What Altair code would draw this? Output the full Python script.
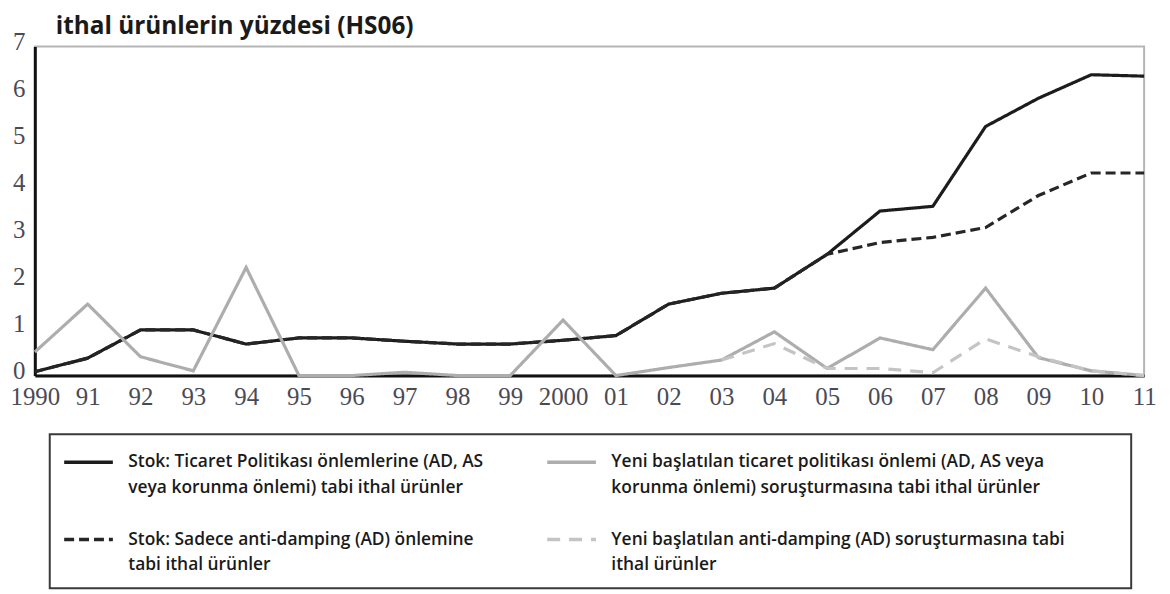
import altair as alt
import pandas as pd

years = ["1990", "91", "92", "93", "94", "95", "96", "97", "98", "99", "2000",
         "01", "02", "03", "04", "05", "06", "07", "08", "09", "10", "11"]

stock_tp = [0.08, 0.37, 0.97, 0.97, 0.67, 0.8, 0.8, 0.73, 0.67, 0.67, 0.75,
            0.85, 1.52, 1.75, 1.86, 2.58, 3.5, 3.6, 5.3, 5.9, 6.4, 6.37]
stock_ad = [0.08, 0.37, 0.97, 0.97, 0.67, 0.8, 0.8, 0.73, 0.67, 0.67, 0.75,
            0.85, 1.52, 1.75, 1.86, 2.58, 2.83, 2.94, 3.15, 3.83, 4.31, 4.31]
new_tp = [0.5, 1.52, 0.4, 0.1, 2.3, 0.0, 0.0, 0.07, 0.0, 0.0, 1.18,
          0.0, 0.17, 0.33, 0.93, 0.15, 0.8, 0.55, 1.86, 0.38, 0.1, 0.0]
new_ad = [None, None, None, None, None, None, None, None, None, None, None,
          None, None, 0.33, 0.68, 0.15, 0.15, 0.06, 0.78, 0.4, 0.1, 0.0]

series_names = [
    "Stok: Ticaret Politikası önlemlerine (AD, AS|veya korunma önlemi) tabi ithal ürünler",
    "Stok: Sadece anti-damping (AD) önlemine|tabi ithal ürünler",
    "Yeni başlatılan ticaret politikası önlemi (AD, AS veya|korunma önlemi) soruşturmasına tabi ithal ürünler",
    "Yeni başlatılan anti-damping (AD) soruşturmasına tabi|ithal ürünler",
]
series_values = [stock_tp, stock_ad, new_tp, new_ad]
series_colors = ["#1c1c1c", "#262626", "#adadad", "#c4c4c4"]
series_dashes = [[1, 0], [10, 5], [1, 0], [13, 9]]
draw_order = [3, 2, 1, 0]

rows = []
for name, vals, z in zip(series_names, series_values, draw_order):
    for i, (yr, v) in enumerate(zip(years, vals)):
        if v is not None:
            rows.append({"year": yr, "idx": i, "value": v, "series": name, "z": z})
df = pd.DataFrame(rows)

legend = alt.Legend(
    title=" ",
    titleOrient="right",
    titlePadding=52,
    orient="none",
    legendX=15,
    legendY=390,
    columns=2,
    symbolType="M-2,0H2",
    symbolSize=600,
    symbolStrokeWidth=3.5,
    symbolOffset=11,
    labelFont="Open Sans",
    labelFontSize=17.5,
    labelFontWeight=600,
    labelColor="#1a1a1a",
    labelLimit=0,
    labelOffset=26,
    labelExpr="split(datum.label, '|')",
    strokeColor="#3a3a3a",
    padding=14,
    rowPadding=29,
    columnPadding=56,
)

chart = alt.Chart(df).mark_line(strokeWidth=3.2).encode(
    x=alt.X("year:N", sort=years,
            scale=alt.Scale(type="point", padding=0),
            axis=alt.Axis(title=None, labelAngle=0, ticks=False, labelPadding=9)),
    y=alt.Y("value:Q", scale=alt.Scale(domain=[0, 7], nice=False),
            axis=alt.Axis(title=None, values=[0, 1, 2, 3, 4, 5, 6, 7], ticks=False,
                          grid=False, labelPadding=10, labelOffset=-5)),
    color=alt.Color("series:N", scale=alt.Scale(domain=series_names, range=series_colors),
                    legend=legend),
    strokeDash=alt.StrokeDash("series:N",
                              scale=alt.Scale(domain=series_names, range=series_dashes),
                              legend=legend),
    order=alt.Order("idx:Q"),
    detail="z:N",
).properties(
    width=1116,
    height=331,
    padding={"left": 2, "top": 4, "right": 5, "bottom": 0},
    title=alt.TitleParams(
        "ithal ürünlerin yüzdesi (HS06)",
        anchor="start",
        font="Open Sans",
        fontSize=24.5,
        fontWeight="bold",
        color="#1a1a1a",
        dx=46,
        offset=-10,
    ),
).configure(
    style={"guide-label": {"lineHeight": 26}},
).configure_legend(
    strokeWidth=2,
).configure_axis(
    domainColor="#111",
    domainWidth=3,
    labelFont="Liberation Serif",
    labelFontSize=25,
    labelColor="#4a4a55",
    grid=False,
).configure_view(
    stroke="#b5b5b5",
    strokeWidth=2,
)

chart.save("out.html", embed_options={"renderer": "svg", "actions": False})
